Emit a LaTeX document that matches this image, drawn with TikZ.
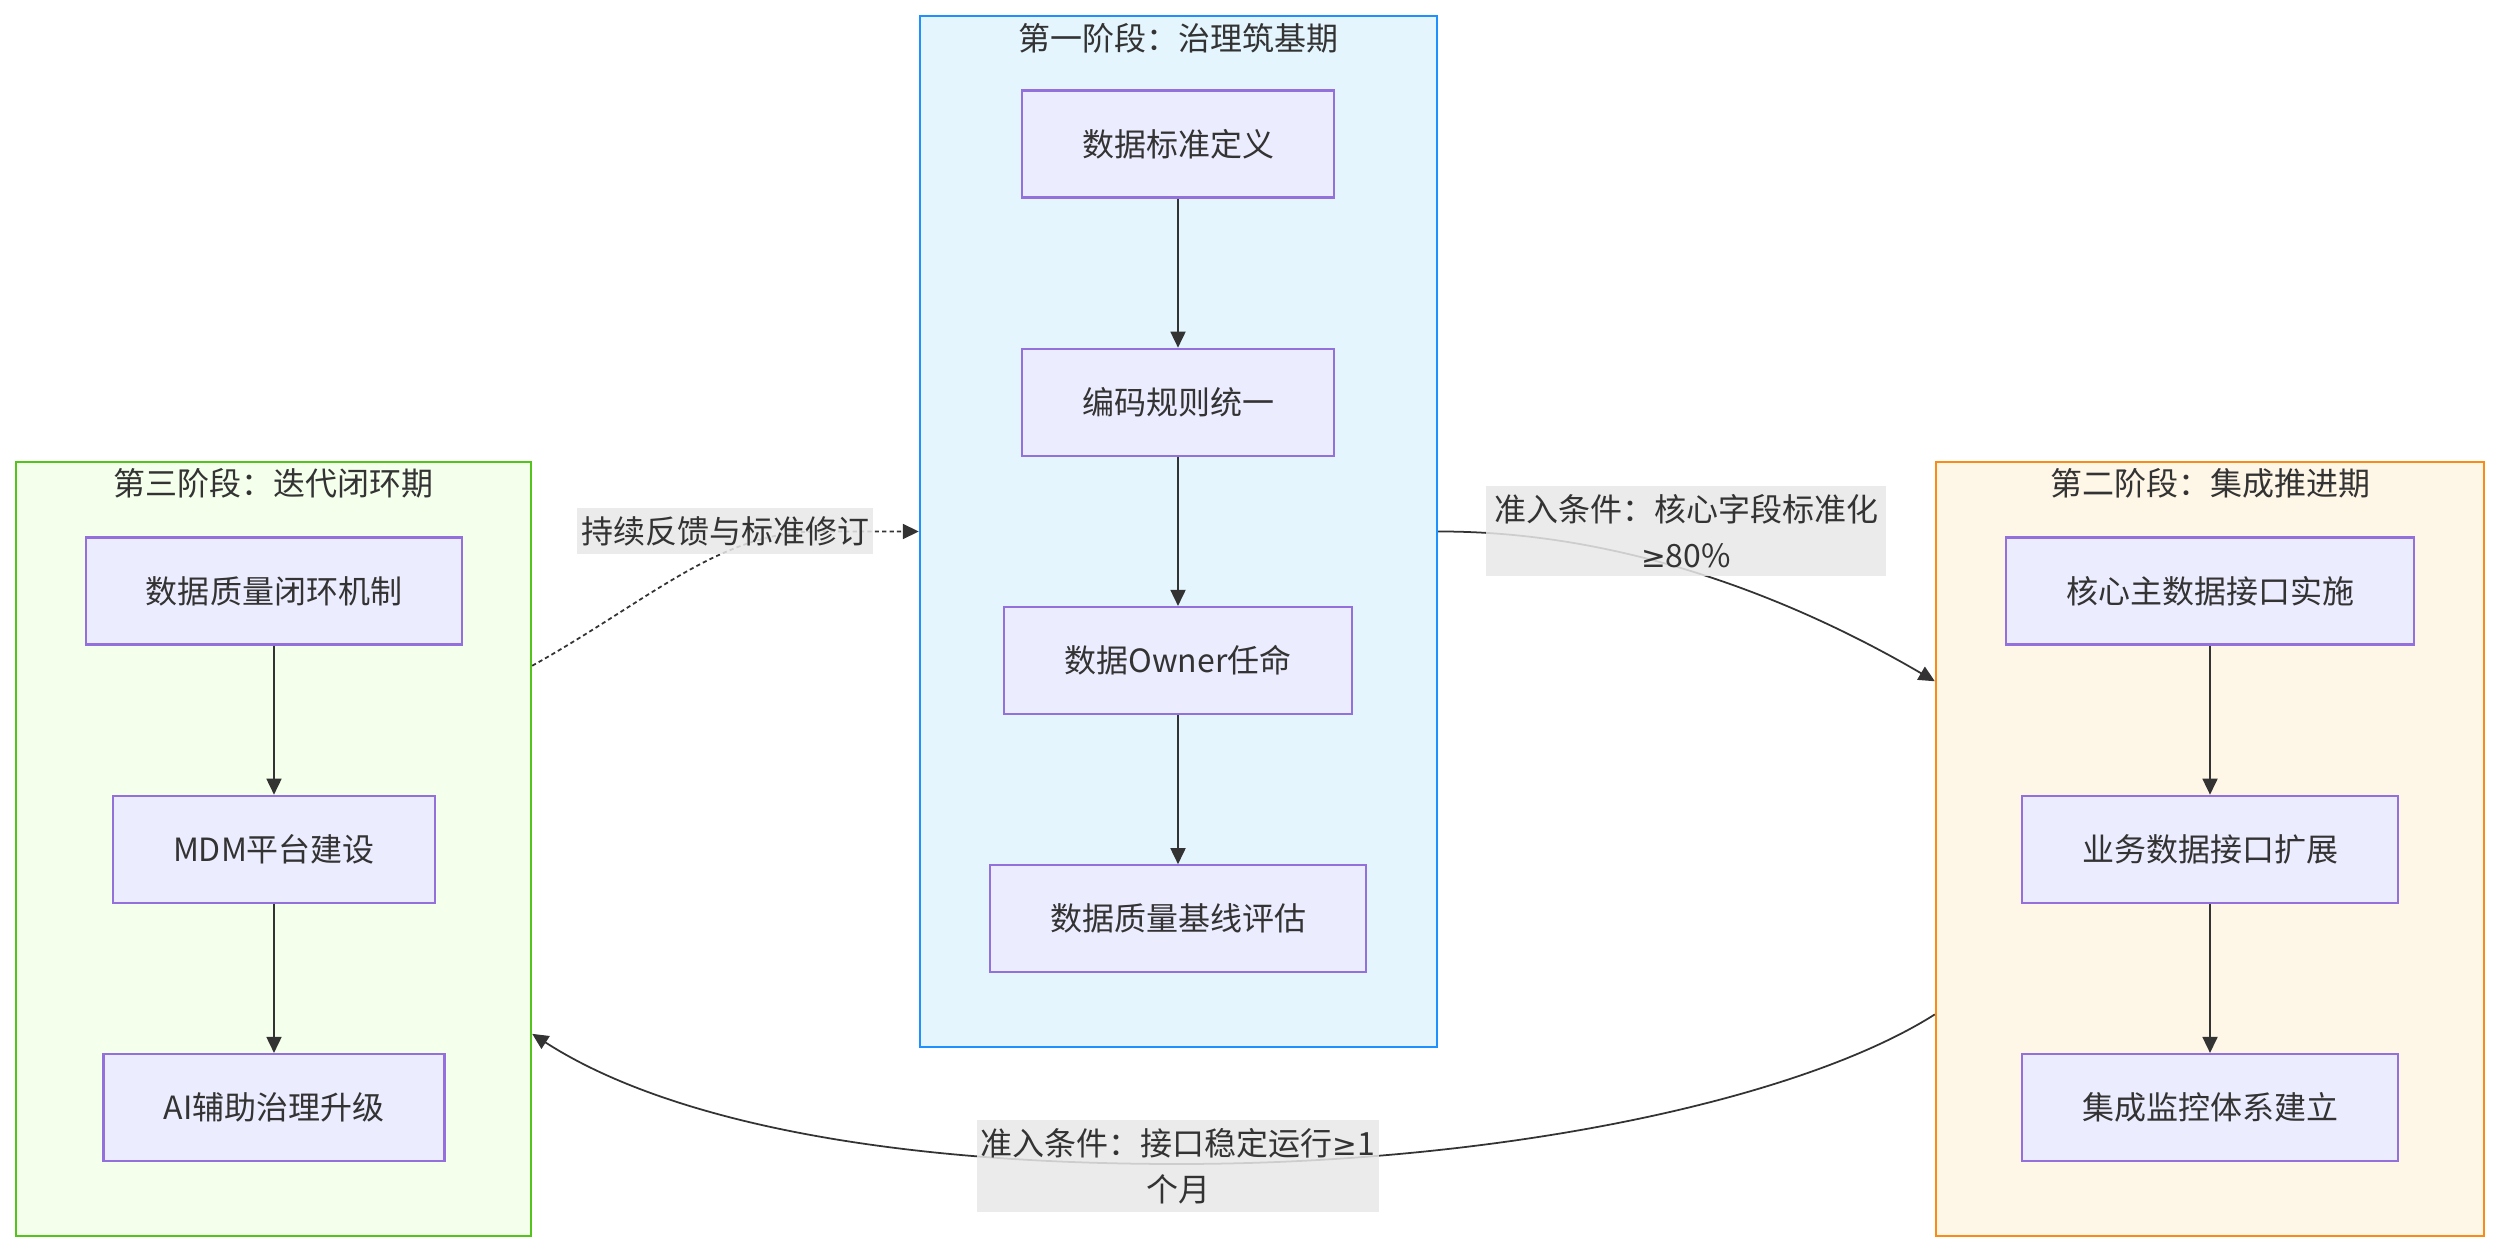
\documentclass[tikz,border=0pt]{standalone}
\usepackage{fontspec}
\setmainfont{Noto Sans CJK SC}
\newfontfamily\symfont{DejaVu Sans}
\usepackage{tikz}
\usetikzlibrary{arrows.meta, calc, positioning}
\definecolor{ctext}{HTML}{333333}
\definecolor{cnodefill}{HTML}{ECECFF}
\definecolor{cnodeline}{HTML}{9370DB}
\definecolor{cblue}{HTML}{1E90FF}
\definecolor{cbluefill}{HTML}{E4F5FE}
\definecolor{corange}{HTML}{FA8C16}
\definecolor{corangefill}{HTML}{FEF6E6}
\definecolor{cgreen}{HTML}{52C41A}
\definecolor{cgreenfill}{HTML}{F4FFEC}
\definecolor{clabel}{HTML}{E8E8E8}
\newcommand{\geqsym}{{\symfont\fontsize{8.4pt}{13pt}\selectfont ≥}}

\begin{document}
\begin{tikzpicture}[
  x=0.01cm, y=-0.01cm,
  phase/.style={rectangle, line width=0.6pt, inner sep=0pt},
  phasetitle/.style={text=ctext},
  stepbox/.style={
    rectangle, draw=cnodeline, fill=cnodefill, text=ctext,
    line width=0.6pt, minimum height=1.07cm, inner xsep=0.6cm
  },
  flow/.style={-{Triangle[length=0.16cm, width=0.15cm]}, draw=ctext, line width=0.5pt},
  feedback/.style={flow, dash pattern=on 1.2pt off 0.9pt},
  cond/.style={
    fill=clabel, fill opacity=0.85, text opacity=1, text=ctext,
    align=center, inner xsep=1pt, inner ysep=2.3pt
  },
  font=\fontsize{9.1pt}{13pt}\selectfont
]
\useasboundingbox[fill=white] (0,0) rectangle (2500,1252);

% ============================================================
% The three phases
\node[phase, draw=cblue, fill=cbluefill, minimum width=5.17cm, minimum height=10.31cm]
  (p1) at (1178.5, 531.5) {};
\node[phase, draw=corange, fill=corangefill, minimum width=5.48cm, minimum height=7.74cm]
  (p2) at (2210, 849) {};
\node[phase, draw=cgreen, fill=cgreenfill, minimum width=5.15cm, minimum height=7.74cm]
  (p3) at (273.5, 849) {};

\node[phasetitle] (t1) at ($(p1.north)+(0,24)$) {第一阶段：治理筑基期};
\node[phasetitle] (t2) at ($(p2.north)+(0,23)$) {第二阶段：集成推进期};
\node[phasetitle] (t3) at ($(p3.north)+(0,23)$) {第三阶段：迭代闭环期};

% Phase 1 steps
\node[stepbox] (a1) at (1178, 144) {数据标准定义};
\node[stepbox, below=1.49cm of a1] (a2) {编码规则统一};
\node[stepbox, below=1.49cm of a2] (a3) {数据Owner任命};
\node[stepbox, below=1.49cm of a3] (a4) {数据质量基线评估};

% Phase 2 steps
\node[stepbox] (b1) at (2210, 591) {核心主数据接口实施};
\node[stepbox, below=1.49cm of b1] (b2) {业务数据接口扩展};
\node[stepbox, below=1.49cm of b2] (b3) {集成监控体系建立};

% Phase 3 steps
\node[stepbox] (c1) at (274, 591) {数据质量闭环机制};
\node[stepbox, below=1.49cm of c1] (c2) {MDM平台建设};
\node[stepbox, below=1.49cm of c2] (c3) {AI辅助治理升级};

\foreach \from/\to in {a1/a2, a2/a3, a3/a4, b1/b2, b2/b3, c1/c2, c2/c3}
  \draw[flow] (\from) -- (\to);

% ============================================================
% Transitions between phases
\coordinate (in2) at ($(p2.north west)!0.284!(p2.south west)$);
\coordinate (out2) at ($(p2.north west)!0.713!(p2.south west)$);
\coordinate (in3) at ($(p3.north east)!0.738!(p3.south east)$);
\coordinate (out3) at ($(p3.north east)!0.264!(p3.south east)$);
\coordinate (m2) at (1178, 1164);
\coordinate (m3) at ($(p1.west)+(-100,0)$);

\draw[flow] (p1.east) .. controls (1650, 531) and (1830, 620) .. (in2);
\draw[flow] (out2) .. controls (1800, 1100) and (1500, 1164) .. (m2)
  .. controls (850, 1164) and (650, 1110) .. (in3);
\draw[feedback] (out3) .. controls (650, 600) and (720, 531) .. (m3) -- (p1.west);

\node[cond, minimum width=4cm] (l1) at (1686, 531) {准入条件：核心字段标准化\\\geqsym 80\%};
\node[cond, minimum width=4cm] (l2) at (1178, 1166) {准入条件：接口稳定运行\geqsym 1\\个月};
\node[cond] (l3) at (725, 531) {持续反馈与标准修订};

\end{tikzpicture}
\end{document}
